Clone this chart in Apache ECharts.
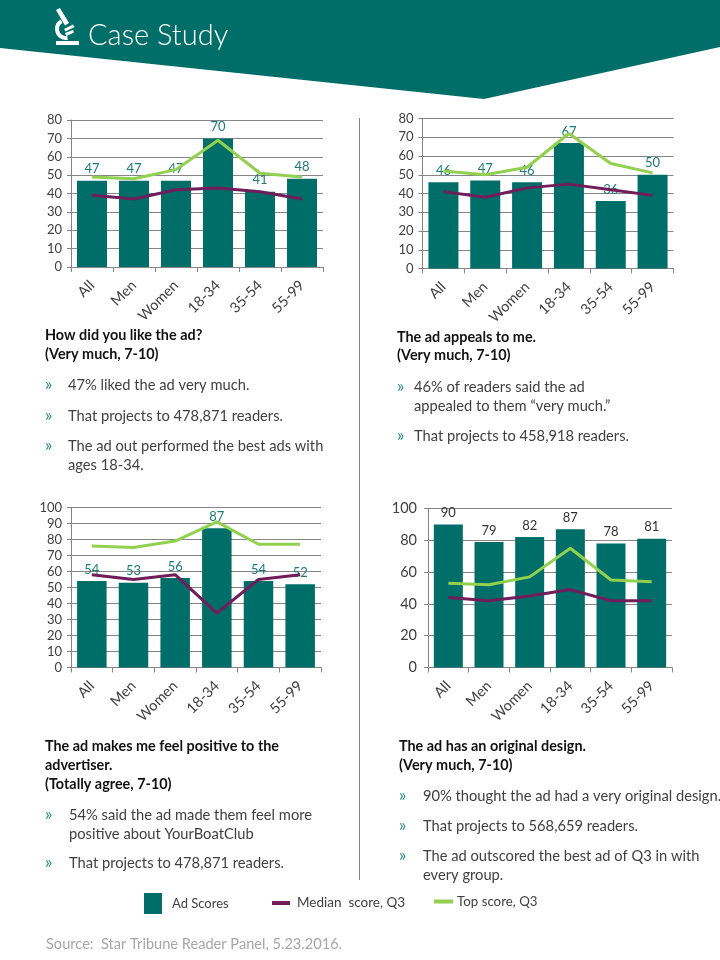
<!DOCTYPE html>
<html><head><meta charset="utf-8">
<style>html,body{margin:0;padding:0;background:#fff}#c{width:720px;height:960px}</style>
<script src="https://cdn.jsdelivr.net/npm/echarts@6/dist/echarts.min.js"></script>
</head><body><div id="c"></div>
<script>
const categories = ['All','Men','Women','18-34','35-54','55-99'];
const adScores1 = [47,47,47,70,41,48];
const median1   = [39,37,42,43,41,37];
const top1      = [49,48,53,69,51,49];
const adScores2 = [46,47,46,67,36,50];
const median2   = [41,38,43,45,42,39];
const top2      = [52,50,54,72,56,51];
const adScores3 = [54,53,56,87,54,52];
const median3   = [58,55,58,34,55,58];
const top3      = [76,75,79,91,77,77];
const adScores4 = [90,79,82,87,78,81];
const median4   = [44,42,45,49,42,42];
const top4      = [53,52,57,75,55,54];

const TEAL='#006e68', PURPLE='#6f1d5b', GREEN='#92d050', GRID='#868686', INK='#404040';
const FONT='Lato, "Open Sans", sans-serif';

const panels = [
 {bars:adScores1, med:median1, top:top1, box:[71,120,252,147], max:80, step:10, fs:13, xfs:14.5, lab:'#1f7a76', bw:30, m:9},
 {bars:adScores2, med:median2, top:top2, box:[422.5,118.5,251,150], max:80, step:10, fs:13, xfs:14.5, lab:'#1f7a76', bw:30, m:9},
 {bars:adScores3, med:median3, top:top3, box:[71,507.5,250,160], max:100, step:10, fs:13, xfs:14.5, lab:'#1f7a76', bw:29.5, m:9},
 {bars:adScores4, med:median4, top:top4, box:[428,508.5,244,159], max:100, step:20, fs:14.5, xfs:14.5, lab:'#333333', bw:29, m:11}
];

const textBlocks = [
 {x:45, tx:68, title:[['How did you like the ad?',335],['(Very much, 7-10)',354]],
  bullets:[[385,'47% liked the ad very much.'],[416,'That projects to 478,871 readers.'],[446,'The ad out performed the best ads with'],[465,null,'ages 18-34.']]},
 {x:397, tx:414, title:[['The ad appeals to me.',337],['(Very much, 7-10)',355]],
  bullets:[[387,'46% of readers said the ad'],[406,null,'appealed to them “very much.”'],[436,'That projects to 458,918 readers.']]},
 {x:45, tx:69, title:[['The ad makes me feel positive to the',746],['advertiser.',765],['(Totally agree, 7-10)',784]],
  bullets:[[815,'54% said the ad made them feel more'],[834,null,'positive about YourBoatClub'],[863,'That projects to 478,871 readers.']]},
 {x:399, tx:423, title:[['The ad has an original design.',746],['(Very much, 7-10)',765]],
  bullets:[[796,'90% thought the ad had a very original design.'],[826,'That projects to 568,659 readers.'],[856,'The ad outscored the best ad of Q3 in with'],[875,null,'every group.']]}
];

const grid=[],xAxis=[],yAxis=[],series=[];
panels.forEach((p,i)=>{
  grid.push({left:p.box[0],top:p.box[1],width:p.box[2],height:p.box[3],containLabel:false});
  xAxis.push({type:'category',gridIndex:i,data:categories,boundaryGap:true,
    axisLine:{lineStyle:{color:GRID,width:1}},
    axisTick:{show:true,length:5,lineStyle:{color:GRID},alignWithLabel:false},
    axisLabel:{rotate:45,interval:0,margin:16,color:INK,fontFamily:FONT,fontSize:p.xfs}});
  yAxis.push({type:'value',gridIndex:i,min:0,max:p.max,interval:p.step,
    axisLine:{show:true,lineStyle:{color:GRID,width:1}},
    axisTick:{show:true,length:4,lineStyle:{color:GRID}},
    splitLine:{show:true,lineStyle:{color:GRID,width:1}},
    axisLabel:{margin:p.m,color:INK,fontFamily:FONT,fontSize:p.fs}});
  series.push({name:'Ad Scores',type:'bar',xAxisIndex:i,yAxisIndex:i,data:p.bars,barWidth:p.bw,
    itemStyle:{color:TEAL},
    label:{show:true,position:'top',distance:5,color:p.lab,fontFamily:FONT,fontSize:13}});
  series.push({name:'Median  score, Q3',type:'line',xAxisIndex:i,yAxisIndex:i,data:p.med,
    showSymbol:false,symbol:'none',lineStyle:{color:PURPLE,width:3},itemStyle:{color:PURPLE},z:5});
  series.push({name:'Top score, Q3',type:'line',xAxisIndex:i,yAxisIndex:i,data:p.top,
    showSymbol:false,symbol:'none',lineStyle:{color:GREEN,width:3},itemStyle:{color:GREEN},z:6});
});

const legendBase={orient:'horizontal',icon:'rect',selectedMode:false,
  textStyle:{color:INK,fontFamily:FONT,fontSize:13},padding:0};
const legend=[
 {...legendBase,data:['Ad Scores'],left:144,top:893,itemWidth:18,itemHeight:21,itemGap:10,textStyle:{...legendBase.textStyle,padding:[0,0,0,5]}},
 {...legendBase,data:['Median  score, Q3'],left:272,top:896,itemWidth:18,itemHeight:4,textStyle:{...legendBase.textStyle,fontSize:13.5,padding:[0,0,0,2]}},
 {...legendBase,data:['Top score, Q3'],left:434,top:895,itemWidth:19,itemHeight:4,textStyle:{...legendBase.textStyle,fontSize:13.3,padding:[0,0,0,-1]}}
];

const white={fill:'#fff'};
const graphic=[
 {type:'polygon',z:0,shape:{points:[[0,0],[720,0],[720,47],[484,99],[0,48]]},style:{fill:TEAL}},
 {type:'polygon',z:2,shape:{points:[[56,10],[60,8],[69,23],[65,25.5]]},style:white},
 {type:'arc',z:2,shape:{cx:66,cy:29,r:9,startAngle:1.4,endAngle:4.2,clockwise:true},style:{stroke:'#fff',fill:'none',lineWidth:4}},
 {type:'polygon',z:2,shape:{points:[[64,29],[73,24.5],[74.5,27],[65.5,31.5]]},style:white},
 {type:'polygon',z:2,shape:{points:[[65,33],[73,30],[74,32.5],[66.5,36]]},style:white},
 {type:'rect',z:2,shape:{x:56,y:41,width:23,height:4},style:white},
 {type:'text',z:2,style:{x:88,y:36,text:'Case Study',fill:'#fff',font:'300 29px '+FONT,textVerticalAlign:'middle'}},
 {type:'line',z:1,shape:{x1:359.5,y1:118,x2:359.5,y2:880},style:{stroke:'#7f7f7f',lineWidth:1}},
 {type:'text',z:2,style:{x:46,y:944,text:'Source:  Star Tribune Reader Panel, 5.23.2016.',fill:'#a6a6a6',font:'14.6px '+FONT,textVerticalAlign:'middle'}}
];
textBlocks.forEach(b=>{
  b.title.forEach(t=>graphic.push({type:'text',z:2,style:{x:b.x,y:t[1],text:t[0],fill:'#111',font:'bold 14.4px '+FONT,textVerticalAlign:'middle'}}));
  b.bullets.forEach(r=>{
    const txt=r[1]||r[2];
    if(r[1]) graphic.push({type:'text',z:2,style:{x:b.x,y:r[0],text:'»',fill:'#2a8a85',font:'17px '+FONT,textVerticalAlign:'middle'}});
    graphic.push({type:'text',z:2,style:{x:b.tx,y:r[0],text:txt,fill:INK,font:'14.7px '+FONT,textVerticalAlign:'middle'}});
  });
});

const chart=echarts.init(document.getElementById('c'),null,{renderer:'canvas'});
chart.setOption({animation:false,backgroundColor:'#fff',grid,xAxis,yAxis,series,legend,graphic});
</script></body></html>
